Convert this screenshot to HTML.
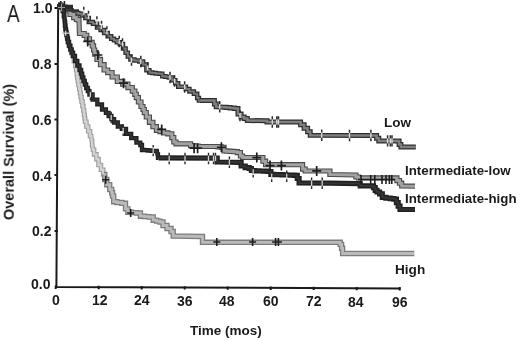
<!DOCTYPE html>
<html><head><meta charset="utf-8"><style>
html,body{margin:0;padding:0;background:#fff;}
body{width:520px;height:340px;position:relative;overflow:hidden;font-family:"Liberation Sans",sans-serif;}
.t{position:absolute;will-change:transform;white-space:nowrap;color:#1a1a1a;line-height:1;}
.b{font-weight:bold;}
svg{position:absolute;left:0;top:0;}
#r{position:absolute;left:0;top:0;width:520px;height:340px;}
</style></head><body><div id="r">
<svg width="520" height="340" viewBox="0 0 520 340">
<g fill="none" stroke-linejoin="miter" stroke-linecap="butt">
<path d="M58.2 4 L56.4 286.9 L400.5 288.4" stroke="#1a1a1a" stroke-width="2"/>
<path d="M54.5 8.0H58M54.5 64.0H58M54.5 119.5H58M54.5 175.0H58M54.5 231.0H58" stroke="#1a1a1a" stroke-width="2"/>
<path d="M55.7 285.6V289.0M98.7 285.8V289.2M141.7 286.0V289.4M184.7 286.2V289.6M227.7 286.4V289.8M270.7 286.6V289.9M313.7 286.7V290.1M356.7 286.9V290.3M399.7 287.1V290.5" stroke="#1a1a1a" stroke-width="2"/>
<path d="M58.0 5.0 H60.0 V7.0 H62.0 H62.8 V11.0 H63.5 H63.9 V16.0 H64.3 L64.8 22.0 H65.0 V25.5 H65.4 V29.0 H65.6 H65.9 V32.0 H66.5 V35.0 H66.8 H67.2 V38.5 H67.9 V42.0 H68.3 H68.9 V46.0 H70.2 V50.0 H70.8 H71.3 V53.0 H72.5 V56.0 H73.0 H73.9 V61.0 H74.8 H75.4 V66.0 H76.0 H76.2 V70.0 H76.8 V74.0 H77.0 H77.2 V77.5 H77.8 V81.0 H78.0 H78.4 V85.0 H79.3 V89.0 H79.7 H80.0 V93.0 H80.7 V97.0 H81.0 H81.5 V101.5 H82.5 V106.0 H83.0 H83.4 V110.5 H84.1 V115.0 H84.5 H84.7 V118.4 H85.1 V121.8 H85.3 H86.4 V126.5 H87.6 H88.2 V131.2 H88.8 H90.0 V136.0 H91.2 L91.8 141.0 H92.1 V145.3 H92.4 L92.9 149.7 H94.1 V154.4 H95.3 H96.4 V159.1 H97.6 H98.5 V165.0 H99.4 H100.9 V169.7 H102.4 H103.2 V174.4 H104.1" stroke="#9c9c9c" stroke-width="4.6"/>
<path d="M58.0 5.0 H60.0 V7.0 H62.0 H62.8 V11.0 H63.5 H63.9 V16.0 H64.3 L64.8 22.0 H65.0 V25.5 H65.4 V29.0 H65.6 H65.9 V32.0 H66.5 V35.0 H66.8 H67.2 V38.5 H67.9 V42.0 H68.3 H68.9 V46.0 H70.2 V50.0 H70.8 H71.3 V53.0 H72.5 V56.0 H73.0 H73.9 V61.0 H74.8 H75.4 V66.0 H76.0 H76.2 V70.0 H76.8 V74.0 H77.0 H77.2 V77.5 H77.8 V81.0 H78.0 H78.4 V85.0 H79.3 V89.0 H79.7 H80.0 V93.0 H80.7 V97.0 H81.0 H81.5 V101.5 H82.5 V106.0 H83.0 H83.4 V110.5 H84.1 V115.0 H84.5 H84.7 V118.4 H85.1 V121.8 H85.3 H86.4 V126.5 H87.6 H88.2 V131.2 H88.8 H90.0 V136.0 H91.2 L91.8 141.0 H92.1 V145.3 H92.4 L92.9 149.7 H94.1 V154.4 H95.3 H96.4 V159.1 H97.6 H98.5 V165.0 H99.4 H100.9 V169.7 H102.4 H103.2 V174.4 H104.1" stroke="#d2d2d2" stroke-width="2.4"/>
<path d="M104.1 174.4 H104.8 V179.5 H105.5 H106.8 V184.7 H108.1 H109.7 V189.5 H111.3 H111.7 V192.8 H112.5 V196.0 H112.9 H113.7 V201.7 H114.5 H116.9 V202.5 H121.8 V203.3 H124.2 H125.5 V208.9 H126.7 H127.9 V212.2 H129.1 H131.5 V212.6 H136.4 V213.0 H138.8 H140.4 V216.2 H142.0 H144.4 V216.6 H149.1 V217.0 H151.5 H153.2 V220.2 H155.0 H156.6 V221.1 H159.9 V222.0 H161.5 H163.0 V225.5 H164.5 H167.0 V228.5 H169.5 H171.0 V231.5 H172.5 H173.2 V236.0 H174.0 L201.5 236.5 H202.5 V242.3 H203.5 L339.2 242.3 H340.2 V244.4 H341.2 H341.6 V248.3 H342.1 H342.6 V253.5 H343.0 L414.2 253.5" stroke="#7c7c7c" stroke-width="5.4"/>
<path d="M104.1 174.4 H104.8 V179.5 H105.5 H106.8 V184.7 H108.1 H109.7 V189.5 H111.3 H111.7 V192.8 H112.5 V196.0 H112.9 H113.7 V201.7 H114.5 H116.9 V202.5 H121.8 V203.3 H124.2 H125.5 V208.9 H126.7 H127.9 V212.2 H129.1 H131.5 V212.6 H136.4 V213.0 H138.8 H140.4 V216.2 H142.0 H144.4 V216.6 H149.1 V217.0 H151.5 H153.2 V220.2 H155.0 H156.6 V221.1 H159.9 V222.0 H161.5 H163.0 V225.5 H164.5 H167.0 V228.5 H169.5 H171.0 V231.5 H172.5 H173.2 V236.0 H174.0 L201.5 236.5 H202.5 V242.3 H203.5 L339.2 242.3 H340.2 V244.4 H341.2 H341.6 V248.3 H342.1 H342.6 V253.5 H343.0 L414.2 253.5" stroke="#bababa" stroke-width="2.8"/>
<path d="M58.0 5.0 L60.0 5.5 H61.6 V7.2 H64.9 V8.8 H66.6 H68.3 V10.6 H71.8 V12.3 H73.6 H75.2 V13.1 H78.4 V13.8 H80.0 H81.8 V15.6 H83.5 H85.3 V17.9 H87.1 H88.8 V22.1 H90.6 H92.9 V23.8 H95.3 H97.0 V27.5 H98.8 H100.6 V30.0 H102.4 H104.2 V33.0 H105.9 H107.7 V36.3 H109.4 H111.2 V38.8 H112.9 H114.0 V40.3 H115.0 H116.8 V42.3 H118.5 H119.8 V44.0 H121.2 H123.0 V48.5 H124.7 H125.6 V52.7 H126.5 H127.8 V56.5 H129.1 H130.4 V59.5 H131.8 H134.4 V60.6 H137.1 H139.3 V61.5 H141.5 H143.1 V64.4 H144.7 H146.4 V70.3 H148.2 H149.4 V72.6 H150.6 H152.4 V73.0 H155.9 V73.4 H159.4 V73.8 H161.2 H162.3 V76.2 H163.5 H165.3 V76.8 H168.8 V77.4 H170.6 H172.3 V80.3 H174.1 H175.3 V83.2 H176.5 H178.2 V86.8 H180.0 L184.7 86.8 H185.9 V89.1 H187.1 H189.4 V91.5 H191.8 H193.9 V93.8 H196.0 H197.2 V97.9 H198.5 H198.9 V100.6 H199.4" stroke="#2e2e2e" stroke-width="4.5"/>
<path d="M58.0 5.0 L60.0 5.5 H61.6 V7.2 H64.9 V8.8 H66.6 H68.3 V10.6 H71.8 V12.3 H73.6 H75.2 V13.1 H78.4 V13.8 H80.0 H81.8 V15.6 H83.5 H85.3 V17.9 H87.1 H88.8 V22.1 H90.6 H92.9 V23.8 H95.3 H97.0 V27.5 H98.8 H100.6 V30.0 H102.4 H104.2 V33.0 H105.9 H107.7 V36.3 H109.4 H111.2 V38.8 H112.9 H114.0 V40.3 H115.0 H116.8 V42.3 H118.5 H119.8 V44.0 H121.2 H123.0 V48.5 H124.7 H125.6 V52.7 H126.5 H127.8 V56.5 H129.1 H130.4 V59.5 H131.8 H134.4 V60.6 H137.1 H139.3 V61.5 H141.5 H143.1 V64.4 H144.7 H146.4 V70.3 H148.2 H149.4 V72.6 H150.6 H152.4 V73.0 H155.9 V73.4 H159.4 V73.8 H161.2 H162.3 V76.2 H163.5 H165.3 V76.8 H168.8 V77.4 H170.6 H172.3 V80.3 H174.1 H175.3 V83.2 H176.5 H178.2 V86.8 H180.0 L184.7 86.8 H185.9 V89.1 H187.1 H189.4 V91.5 H191.8 H193.9 V93.8 H196.0 H197.2 V97.9 H198.5 H198.9 V100.6 H199.4" stroke="#7a7a7a" stroke-width="2.0"/>
<path d="M199.4 100.6 L213.5 100.6 H214.4 V104.1 H215.3 H216.2 V106.7 H217.0 L224.0 107.2 H226.1 V107.6 H230.2 V108.1 H234.3 V108.5 H236.4 H238.0 V114.0 H239.6 H241.1 V116.9 H242.7 H244.2 V118.5 H245.8 H247.3 V120.5 H248.8 L266.0 120.8 H267.0 V122.0 H268.0 L298.8 122.0 H300.6 V124.7 H302.3 H304.1 V128.2 H305.9 H307.6 V131.7 H309.4 H310.2 V135.3 H311.1 L375.3 135.5 H376.6 V138.2 H377.9 H378.8 V140.9 H379.7 L398.2 140.9 H399.1 V144.4 H400.0 H400.9 V147.0 H401.7 L415.8 147.0" stroke="#2e2e2e" stroke-width="5.0"/>
<path d="M199.4 100.6 L213.5 100.6 H214.4 V104.1 H215.3 H216.2 V106.7 H217.0 L224.0 107.2 H226.1 V107.6 H230.2 V108.1 H234.3 V108.5 H236.4 H238.0 V114.0 H239.6 H241.1 V116.9 H242.7 H244.2 V118.5 H245.8 H247.3 V120.5 H248.8 L266.0 120.8 H267.0 V122.0 H268.0 L298.8 122.0 H300.6 V124.7 H302.3 H304.1 V128.2 H305.9 H307.6 V131.7 H309.4 H310.2 V135.3 H311.1 L375.3 135.5 H376.6 V138.2 H377.9 H378.8 V140.9 H379.7 L398.2 140.9 H399.1 V144.4 H400.0 H400.9 V147.0 H401.7 L415.8 147.0" stroke="#808080" stroke-width="2.5"/>
<path d="M58.0 5.0 H60.5 V7.0 H63.0 H65.5 V11.0 H68.0 H70.0 V14.5 H72.0 H73.7 V17.6 H75.4 H76.3 V19.4 H77.2 H78.1 V20.0 H79.0 L79.4 33.5 L82.5 33.5 H84.2 V35.3 H86.0 H86.8 V38.8 H87.7 H89.5 V42.3 H91.3 H92.2 V45.9 H93.0 H93.6 V50.0 H94.7 V54.1 H95.3 H97.0 V59.4 H98.8 H100.5 V64.7 H102.3 H104.1 V70.0 H105.9 H107.7 V72.6 H109.4 H112.1 V77.0 H114.7 H117.3 V81.4 H120.0 H122.7 V84.1 H125.3 H127.9 V87.6 H130.6 H132.3 V91.1 H134.1 H134.8 V94.3 H136.3 V97.6 H137.1 H138.4 V102.0 H139.7 H141.0 V106.5 H142.3 H143.0 V109.5 H144.3 V112.6 H145.0 H146.3 V117.0 H147.6 H149.4 V122.3 H151.2 H152.9 V126.7 H154.7 H156.4 V130.3 H158.2 H160.0 V131.6 H163.5 V132.9 H165.3 H167.9 V133.8 H170.6 H171.8 V137.6 H172.9 H173.8 V142.0 H174.7 H176.0 V143.8 H177.3 L189.7 143.8 H190.6 V145.6 H191.5 H193.7 V146.1 H198.1 V146.5 H200.3 L216.1 146.5 H217.9 V146.9 H221.4 V147.3 H223.2 H224.1 V150.9 H225.0 H226.8 V151.2 H230.2 V151.4 H233.8 V151.7 H235.5 H237.3 V152.6 H239.1 H240.4 V156.0 H241.7 H242.6 V157.5 H243.5 L261.2 157.5 H262.9 V161.2 H264.7 H265.6 V164.7 H266.5 L301.7 164.7 H302.6 V169.1 H303.5 H305.2 V170.9 H307.0 L328.5 171.0 H329.9 V174.5 H331.2 L355.0 175.0 H355.9 V177.0 H356.7 H358.5 V177.9 H360.3 L395.5 177.9 H396.9 V180.6 H398.2 H399.5 V183.2 H400.8 H401.7 V185.9 H402.6 L415.0 186.2" stroke="#4a4a4a" stroke-width="5.2"/>
<path d="M58.0 5.0 H60.5 V7.0 H63.0 H65.5 V11.0 H68.0 H70.0 V14.5 H72.0 H73.7 V17.6 H75.4 H76.3 V19.4 H77.2 H78.1 V20.0 H79.0 L79.4 33.5 L82.5 33.5 H84.2 V35.3 H86.0 H86.8 V38.8 H87.7 H89.5 V42.3 H91.3 H92.2 V45.9 H93.0 H93.6 V50.0 H94.7 V54.1 H95.3 H97.0 V59.4 H98.8 H100.5 V64.7 H102.3 H104.1 V70.0 H105.9 H107.7 V72.6 H109.4 H112.1 V77.0 H114.7 H117.3 V81.4 H120.0 H122.7 V84.1 H125.3 H127.9 V87.6 H130.6 H132.3 V91.1 H134.1 H134.8 V94.3 H136.3 V97.6 H137.1 H138.4 V102.0 H139.7 H141.0 V106.5 H142.3 H143.0 V109.5 H144.3 V112.6 H145.0 H146.3 V117.0 H147.6 H149.4 V122.3 H151.2 H152.9 V126.7 H154.7 H156.4 V130.3 H158.2 H160.0 V131.6 H163.5 V132.9 H165.3 H167.9 V133.8 H170.6 H171.8 V137.6 H172.9 H173.8 V142.0 H174.7 H176.0 V143.8 H177.3 L189.7 143.8 H190.6 V145.6 H191.5 H193.7 V146.1 H198.1 V146.5 H200.3 L216.1 146.5 H217.9 V146.9 H221.4 V147.3 H223.2 H224.1 V150.9 H225.0 H226.8 V151.2 H230.2 V151.4 H233.8 V151.7 H235.5 H237.3 V152.6 H239.1 H240.4 V156.0 H241.7 H242.6 V157.5 H243.5 L261.2 157.5 H262.9 V161.2 H264.7 H265.6 V164.7 H266.5 L301.7 164.7 H302.6 V169.1 H303.5 H305.2 V170.9 H307.0 L328.5 171.0 H329.9 V174.5 H331.2 L355.0 175.0 H355.9 V177.0 H356.7 H358.5 V177.9 H360.3 L395.5 177.9 H396.9 V180.6 H398.2 H399.5 V183.2 H400.8 H401.7 V185.9 H402.6 L415.0 186.2" stroke="#a2a2a2" stroke-width="3.0"/>
<path d="M58.0 5.0 H60.0 V7.0 H62.0 H62.8 V11.0 H63.5 H63.9 V16.0 H64.3 L64.8 22.0 H65.0 V25.5 H65.4 V29.0 H65.6 H65.9 V32.0 H66.5 V35.0 H66.8 H67.2 V38.5 H67.9 V42.0 H68.3 H69.0 V45.7 H70.3 V49.4 H71.0 H71.7 V52.7 H73.1 V56.0 H73.8 H75.0 V61.0 H76.2 H77.3 V65.5 H78.5 H79.5 V70.0 H80.5 H81.1 V73.7 H82.2 V77.3 H83.4 V81.0 H84.0 H84.8 V84.5 H86.2 V88.0 H87.0 H87.8 V91.2 H89.4 V94.5 H90.2 H92.6 V99.6 H95.0 H97.3 V104.3 H99.6 H102.0 V109.5 H104.5 H105.9 V112.8 H108.6 V116.0 H110.0 H111.4 V119.2 H114.1 V122.5 H115.5 H117.8 V126.5 H120.0 H121.8 V128.8 H123.5 H126.0 V133.8 H128.5 H131.2 V138.2 H133.8 H136.4 V142.6 H139.1 H140.3 V145.0 H141.5 H142.0 V150.0 H142.5 H144.3 V150.2 H147.9 V150.5 H151.5 V150.8 H155.1 V151.0 H156.9 L157.5 154.5 H158.0 V157.8 H158.5" stroke="#202020" stroke-width="4.3"/>
<path d="M58.0 5.0 H60.0 V7.0 H62.0 H62.8 V11.0 H63.5 H63.9 V16.0 H64.3 L64.8 22.0 H65.0 V25.5 H65.4 V29.0 H65.6 H65.9 V32.0 H66.5 V35.0 H66.8 H67.2 V38.5 H67.9 V42.0 H68.3 H69.0 V45.7 H70.3 V49.4 H71.0 H71.7 V52.7 H73.1 V56.0 H73.8 H75.0 V61.0 H76.2 H77.3 V65.5 H78.5 H79.5 V70.0 H80.5 H81.1 V73.7 H82.2 V77.3 H83.4 V81.0 H84.0 H84.8 V84.5 H86.2 V88.0 H87.0 H87.8 V91.2 H89.4 V94.5 H90.2 H92.6 V99.6 H95.0 H97.3 V104.3 H99.6 H102.0 V109.5 H104.5 H105.9 V112.8 H108.6 V116.0 H110.0 H111.4 V119.2 H114.1 V122.5 H115.5 H117.8 V126.5 H120.0 H121.8 V128.8 H123.5 H126.0 V133.8 H128.5 H131.2 V138.2 H133.8 H136.4 V142.6 H139.1 H140.3 V145.0 H141.5 H142.0 V150.0 H142.5 H144.3 V150.2 H147.9 V150.5 H151.5 V150.8 H155.1 V151.0 H156.9 L157.5 154.5 H158.0 V157.8 H158.5" stroke="#343434" stroke-width="1.6"/>
<path d="M158.5 157.8 L216.5 158.2 H217.2 V162.0 H218.0 L239.5 162.3 H241.1 V166.0 H242.6 H245.2 V167.6 H247.9 H249.2 V168.5 H250.6 H251.4 V170.5 H252.3 H254.5 V170.8 H258.9 V171.0 H263.4 V171.2 H267.8 V171.5 H270.0 H270.9 V174.4 H271.7 H273.8 V174.6 H277.9 V174.7 H282.0 V174.9 H286.1 V175.0 H290.2 V175.2 H294.3 V175.3 H296.4 H297.3 V178.5 H298.2 H299.1 V183.0 H300.0 L330.0 183.2 L358.5 183.6 H360.2 V185.9 H362.0 L372.6 185.9 H373.5 V187.6 H374.4 H375.2 V190.3 H376.1 H377.0 V192.0 H377.9 H379.6 V193.8 H381.4 H382.3 V197.3 H383.2 H385.9 V198.2 H388.5 H390.2 V198.6 H393.8 V199.1 H395.5 H396.4 V202.6 H397.3 H398.2 V206.1 H399.1 H400.0 V209.5 H400.8 L415.0 209.5" stroke="#202020" stroke-width="5.2"/>
<path d="M158.5 157.8 L216.5 158.2 H217.2 V162.0 H218.0 L239.5 162.3 H241.1 V166.0 H242.6 H245.2 V167.6 H247.9 H249.2 V168.5 H250.6 H251.4 V170.5 H252.3 H254.5 V170.8 H258.9 V171.0 H263.4 V171.2 H267.8 V171.5 H270.0 H270.9 V174.4 H271.7 H273.8 V174.6 H277.9 V174.7 H282.0 V174.9 H286.1 V175.0 H290.2 V175.2 H294.3 V175.3 H296.4 H297.3 V178.5 H298.2 H299.1 V183.0 H300.0 L330.0 183.2 L358.5 183.6 H360.2 V185.9 H362.0 L372.6 185.9 H373.5 V187.6 H374.4 H375.2 V190.3 H376.1 H377.0 V192.0 H377.9 H379.6 V193.8 H381.4 H382.3 V197.3 H383.2 H385.9 V198.2 H388.5 H390.2 V198.6 H393.8 V199.1 H395.5 H396.4 V202.6 H397.3 H398.2 V206.1 H399.1 H400.0 V209.5 H400.8 L415.0 209.5" stroke="#343434" stroke-width="2.0"/>
<path d="M83.8 10.0v5.0M88.5 14.0v5.0M96.9 19.5v5.0M101.5 24.0v5.0M106.9 29.5v5.0M119.2 39.0v5.0M122.5 41.5v5.0M131.5 57.5v5.0M140.8 59.0v5.0M147.7 65.5v5.0M170.0 75.0v5.0M174.6 78.5v5.0M184.6 84.5v5.0M219.7 104.2v5.0M240.0 113.1v5.0M272.3 119.5v5.0M276.8 119.5v5.0M278.5 119.5v5.0M321.7 132.8v5.0M349.5 133.0v5.0M370.9 133.0v5.0M387.6 138.4v5.0M390.3 138.4v5.0M392.0 138.4v5.0" stroke="#dddddd" stroke-width="1.3"/>
<path d="M83.8 6.8v3.0M88.5 10.8v3.0M96.9 16.3v3.0M101.5 20.8v3.0M106.9 26.3v3.0M119.2 35.8v3.0M122.5 38.3v3.0M131.5 54.3v3.0M140.8 55.8v3.0M147.7 62.3v3.0M170.0 71.8v3.0M174.6 75.3v3.0M184.6 81.3v3.0M219.7 101.0v3.0M240.0 109.9v3.0M272.3 116.3v3.0M276.8 116.3v3.0M278.5 116.3v3.0M321.7 129.6v3.0M349.5 129.8v3.0M370.9 129.8v3.0M387.6 135.2v3.0M390.3 135.2v3.0M392.0 135.2v3.0" stroke="#2a2a2a" stroke-width="1.5"/>
<path d="M83.8 15.2v3.0M88.5 19.2v3.0M96.9 24.7v3.0M101.5 29.2v3.0M106.9 34.7v3.0M119.2 44.2v3.0M122.5 46.7v3.0M131.5 62.7v3.0M140.8 64.2v3.0M147.7 70.7v3.0M170.0 80.2v3.0M174.6 83.7v3.0M184.6 89.7v3.0M219.7 109.4v3.0M240.0 118.3v3.0M272.3 124.7v3.0M276.8 124.7v3.0M278.5 124.7v3.0M321.7 138.0v3.0M349.5 138.2v3.0M370.9 138.2v3.0M387.6 143.6v3.0M390.3 143.6v3.0M392.0 143.6v3.0" stroke="#2a2a2a" stroke-width="1.5"/>
<path d="M65.6 30.7v5.0M90.4 92.0v5.0M111.2 115.0v5.0M123.2 127.8v5.0M153.2 148.1v5.0M169.2 156.0v5.0M185.0 156.0v5.0M208.5 156.0v5.0M213.5 156.0v5.0M215.5 156.0v5.0M229.4 159.8v5.0M253.2 169.2v5.0M271.7 173.7v5.0M286.7 173.7v5.0M311.6 180.7v5.0M322.2 180.7v5.0" stroke="#cfcfcf" stroke-width="1.3"/>
<path d="M65.6 27.5v2.6M90.4 88.8v2.6M111.2 111.8v2.6M123.2 124.6v2.6M153.2 144.9v2.6M169.2 152.8v2.6M185.0 152.8v2.6M208.5 152.8v2.6M213.5 152.8v2.6M215.5 152.8v2.6M229.4 156.6v2.6M253.2 166.0v2.6M271.7 170.5v2.6M286.7 170.5v2.6M311.6 177.5v2.6M322.2 177.5v2.6" stroke="#2a2a2a" stroke-width="1.4"/>
<path d="M65.6 36.3v2.6M90.4 97.6v2.6M111.2 120.6v2.6M123.2 133.4v2.6M153.2 153.7v2.6M169.2 161.6v2.6M185.0 161.6v2.6M208.5 161.6v2.6M213.5 161.6v2.6M215.5 161.6v2.6M229.4 165.4v2.6M253.2 174.8v2.6M271.7 179.3v2.6M286.7 179.3v2.6M311.6 186.3v2.6M322.2 186.3v2.6" stroke="#2a2a2a" stroke-width="1.4"/>
<path d="M87.7 36.4v10.0M83.2 41.4h9.0M97.9 50.0v10.0M93.4 55.0h9.0M123.5 78.2v10.0M119.0 83.2h9.0M161.7 124.4v10.0M157.2 129.4h9.0M194.1 143.2v10.0M189.6 148.2h9.0M197.6 143.2v10.0M193.1 148.2h9.0M221.4 142.3v10.0M216.9 147.3h9.0M256.8 152.6v10.0M252.3 157.6h9.0M270.0 160.6v10.0M265.5 165.6h9.0M281.4 160.6v10.0M276.9 165.6h9.0M316.7 165.9v10.0M312.2 170.9h9.0" stroke="#1e1e1e" stroke-width="1.7"/>
<path d="M361.0 175.0v9.0M370.7 175.0v9.0M374.8 175.0v9.0M382.0 175.0v9.0M386.0 175.0v9.0M389.4 175.0v9.0M391.8 175.0v9.0" stroke="#1e1e1e" stroke-width="1.6"/>
<path d="M358 179.5H395" stroke="#1e1e1e" stroke-width="1.4"/>
<path d="M105.7 175.8v8.0M102.2 179.8h7.0M130.7 209.0v8.0M127.2 213.0h7.0M216.8 238.0v8.0M213.3 242.0h7.0M252.6 238.0v8.0M249.1 242.0h7.0M275.6 238.0v8.0M272.1 242.0h7.0M278.4 238.0v8.0M274.9 242.0h7.0" stroke="#1e1e1e" stroke-width="1.6"/>
<path d="M60.7 1V9M64.4 1V7" stroke="#1e1e1e" stroke-width="1.6"/>
<path d="M57 7H73" stroke="#2a2a2a" stroke-width="4.5"/><path d="M66 10.5H79" stroke="#333" stroke-width="2.5"/><path d="M61.5 3.5V11.5M58 7.5H65" stroke="#9a9a9a" stroke-width="1.1"/>
<path d="M61.8 33.2H70" stroke="#cfcfcf" stroke-width="1.3"/>
</g>
</svg>
<div class="t" style="left:6.5px;top:3px;font-size:23px;transform:scaleX(0.82);transform-origin:0 0;">A</div>
<div class="t b" style="left:32.5px;top:1px;font-size:14px;">1.0</div>
<div class="t b" style="left:32px;top:57px;font-size:14px;">0.8</div>
<div class="t b" style="left:31.5px;top:112.5px;font-size:14px;">0.6</div>
<div class="t b" style="left:31.5px;top:169px;font-size:14px;">0.4</div>
<div class="t b" style="left:31.5px;top:223.5px;font-size:14px;">0.2</div>
<div class="t b" style="left:30.5px;top:276.5px;font-size:14px;">0.0</div>
<div class="t b" style="left:51.5px;top:293px;font-size:14px;">0</div>
<div class="t b" style="left:91.5px;top:293px;font-size:14px;">12</div>
<div class="t b" style="left:134px;top:293px;font-size:14px;">24</div>
<div class="t b" style="left:177px;top:293.5px;font-size:14px;">36</div>
<div class="t b" style="left:219px;top:293.5px;font-size:14px;">48</div>
<div class="t b" style="left:263px;top:294px;font-size:14px;">60</div>
<div class="t b" style="left:305.5px;top:294px;font-size:14px;">72</div>
<div class="t b" style="left:347.5px;top:294.5px;font-size:14px;">84</div>
<div class="t b" style="left:392px;top:294.5px;font-size:14px;">96</div>
<div class="t b" style="left:190px;top:323.5px;font-size:13.5px;">Time (mos)</div>
<div class="t b" style="left:384px;top:115.5px;font-size:13.5px;">Low</div>
<div class="t b" style="left:405px;top:163.5px;font-size:13.3px;">Intermediate-low</div>
<div class="t b" style="left:405px;top:192px;font-size:13.3px;">Intermediate-high</div>
<div class="t b" style="left:395px;top:263px;font-size:13.6px;">High</div>
<div class="t b" style="left:8.5px;top:152px;font-size:14.5px;transform:translate(-50%,-50%) rotate(-90deg);transform-origin:center;">Overall Survival (%)</div>
</div></body></html>
